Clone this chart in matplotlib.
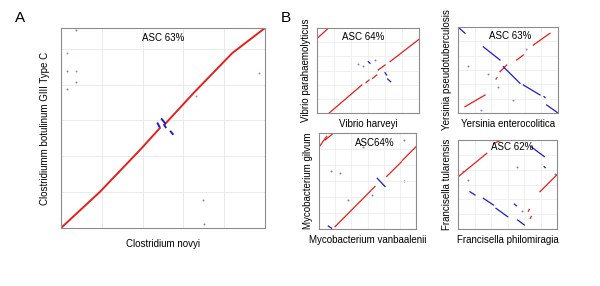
import matplotlib
matplotlib.use("Agg")
import matplotlib.pyplot as plt

plt.rcParams['font.family'] = ['Liberation Sans', 'DejaVu Sans']

W, H = 600, 286
RED = '#e3201c'
BLUE = '#1c1cc8'

# --- panel A: Clostridium novyi vs C. botulinum GIII type C (fractions of genome)
a_red = [[(0.0, 0.0), (0.19, 0.18), (0.387, 0.39), (0.485, 0.50)],
         [(0.51, 0.52), (0.65, 0.675), (0.84, 0.875), (1.0, 1.0)]]
a_blue = [[(0.474, 0.523), (0.482, 0.507)],
          [(0.494, 0.544), (0.510, 0.524)],
          [(0.506, 0.515), (0.513, 0.504)],
          [(0.538, 0.482), (0.548, 0.470)]]
a_dots_blue_x = [0.074, 0.028, 0.074, 0.028, 0.698, 0.703]
a_dots_blue_y = [0.99, 0.785, 0.73, 0.695, 0.14, 0.02]
a_dots_red_x = [0.028, 0.97, 0.662, 0.074, 0.28]
a_dots_red_y = [0.873, 0.777, 0.66, 0.785, 0.28]
a_grid_x = [0.2, 0.4, 0.6, 0.8]
a_grid_y = [0.18, 0.36, 0.54, 0.715, 0.895]

# --- panel B subplots
vib_red = [[(0.003, 0.879), (0.11, 0.996)],
           [(0.12, 0.0), (0.44, 0.33)],
           [(0.48, 0.356), (0.51, 0.388)],
           [(0.546, 0.408), (0.585, 0.447)],
           [(0.60, 0.506), (0.667, 0.565)],
           [(0.716, 0.604), (1.0, 0.867)]]
vib_blue = [[(0.503, 0.604), (0.52, 0.585)],
            [(0.667, 0.474), (0.683, 0.447)],
            [(0.693, 0.40), (0.722, 0.368)]]
vib_dots_x = [0.40, 0.45, 0.57]
vib_dots_y = [0.58, 0.55, 0.62]

yer_red = [[(0.07, 0.073), (0.27, 0.209)],
           [(0.38, 0.395), (0.39, 0.41)],
           [(0.42, 0.48), (0.487, 0.558)],
           [(0.587, 0.616), (0.653, 0.674)],
           [(0.753, 0.79), (0.92, 0.927)]]
yer_blue = [[(0.0, 1.0), (0.07, 0.927)],
            [(0.253, 0.77), (0.42, 0.616)],
            [(0.453, 0.538), (0.62, 0.345)],
            [(0.653, 0.326), (0.82, 0.21)],
            [(0.86, 0.19), (0.87, 0.18)],
            [(0.887, 0.093), (1.0, 0.0)]]
yer_dots_x = [0.10, 0.40, 0.68, 0.23, 0.55, 0.30]
yer_dots_y = [0.55, 0.30, 0.75, 0.03, 0.15, 0.45]

myc_red = [[(0.003, 0.857), (0.079, 0.965)],
           [(0.062, 0.927), (0.148, 0.997)],
           [(0.165, 0.024), (0.577, 0.443)],
           [(0.698, 0.548), (0.85, 0.70)],
           [(0.86, 0.715), (1.0, 0.857)]]
myc_blue = [[(0.601, 0.528), (0.68, 0.443)],
            [(0.096, 0.031), (0.131, 0.007)]]
myc_dots_x = [0.12, 0.22, 0.55, 0.88, 0.88, 0.45, 0.30]
myc_dots_y = [0.60, 0.58, 0.35, 0.93, 0.50, 0.85, 0.30]

fra_red = [[(0.003, 0.588), (0.29, 0.85)],
           [(0.36, 0.96), (0.42, 0.99)],
           [(0.828, 0.419), (0.997, 0.607)],
           [(0.71, 0.20), (0.72, 0.22)],
           [(0.73, 0.12), (0.74, 0.14)]]
fra_blue = [[(0.737, 0.925), (0.872, 0.813)],
            [(0.87, 0.70), (0.88, 0.69)],
            [(0.121, 0.419), (0.172, 0.382)],
            [(0.256, 0.345), (0.357, 0.27)],
            [(0.384, 0.232), (0.502, 0.138)],
            [(0.603, 0.101), (0.67, 0.045)],
            [(0.57, 0.28), (0.59, 0.26)]]
fra_dots_x = [0.05, 0.10, 0.60, 0.98, 0.65]
fra_dots_y = [0.65, 0.55, 0.70, 0.62, 0.20]
b_grid = [1 / 6, 2 / 6, 3 / 6, 4 / 6, 5 / 6]


def rect(x0, x1, y0, y1):
    return [x0 / W, 1 - y1 / H, (x1 - x0) / W, (y1 - y0) / H]


def dotplot(ax, red, blue, dx, dy, lw, gx, gy, gcol):
    for seg in red:
        ax.plot([p[0] for p in seg], [p[1] for p in seg], color=RED, lw=lw)
    for seg in blue:
        ax.plot([p[0] for p in seg], [p[1] for p in seg], color=BLUE, lw=lw)
    ax.scatter(dx, dy, s=2, color='#8080c0', lw=0)
    ax.set_xlim(0, 1)
    ax.set_ylim(0, 1)
    ax.set_xticks(gx)
    ax.set_yticks(gy)
    ax.tick_params(length=0, labelbottom=False, labelleft=False)
    ax.grid(color=gcol, lw=0.6)
    for s in ax.spines.values():
        s.set_color('#8c8c8c')
        s.set_linewidth(0.8)


fig = plt.figure(figsize=(6, 2.86), dpi=100)

# panel A
ax = fig.add_axes(rect(61, 265, 28, 228))
dotplot(ax, a_red, a_blue, a_dots_blue_x, a_dots_blue_y, 1.4, a_grid_x, a_grid_y, '#e6e6e6')
ax.scatter(a_dots_red_x, a_dots_red_y, s=2, color='#d08080', lw=0)
ax.text(0.5, 0.95, 'ASC 63%', transform=ax.transAxes, ha='center', va='center', fontsize=7)
ax.set_xlabel('Clostridium novyi', fontsize=7, labelpad=8)
ax.set_ylabel('Clostridiumm botulinum GIII Type C', fontsize=7, labelpad=8)
fig.text(20 / W, 1 - 18 / H, 'A', fontsize=11, ha='center', va='center')
fig.text(286 / W, 1 - 18 / H, 'B', fontsize=11, ha='center', va='center')

panels = [
    (rect(317, 419, 28, 113), vib_red, vib_blue, vib_dots_x, vib_dots_y,
     'ASC 64%', (0.45, 0.9), 'Vibrio harveyi', 'Vibrio parahaemolyticus'),
    (rect(458, 558, 27, 113), yer_red, yer_blue, yer_dots_x, yer_dots_y,
     'ASC 63%', (0.52, 0.9), 'Yersinia enterocolitica', 'Yersinia pseudotuberculosis'),
    (rect(319, 416, 133, 229), myc_red, myc_blue, myc_dots_x, myc_dots_y,
     'ASC64%', (0.58, 0.9), 'Mycobacterium vanbaalenii', 'Mycobacterium gilvum'),
    (rect(458, 557, 140, 229), fra_red, fra_blue, fra_dots_x, fra_dots_y,
     'ASC 62%', (0.55, 0.92), 'Francisella philomiragia', 'Francisella tularensis'),
]
for r, red, blue, dx, dy, title, tpos, xl, yl in panels:
    ax = fig.add_axes(r)
    dotplot(ax, red, blue, dx, dy, 0.9, b_grid, b_grid, '#eeeeee')
    ax.text(tpos[0], tpos[1], title, transform=ax.transAxes, ha='center', va='center', fontsize=7)
    ax.set_xlabel(xl, fontsize=7, labelpad=4)
    ax.set_ylabel(yl, fontsize=7, labelpad=4)

fig.savefig('out.png', dpi=100)
